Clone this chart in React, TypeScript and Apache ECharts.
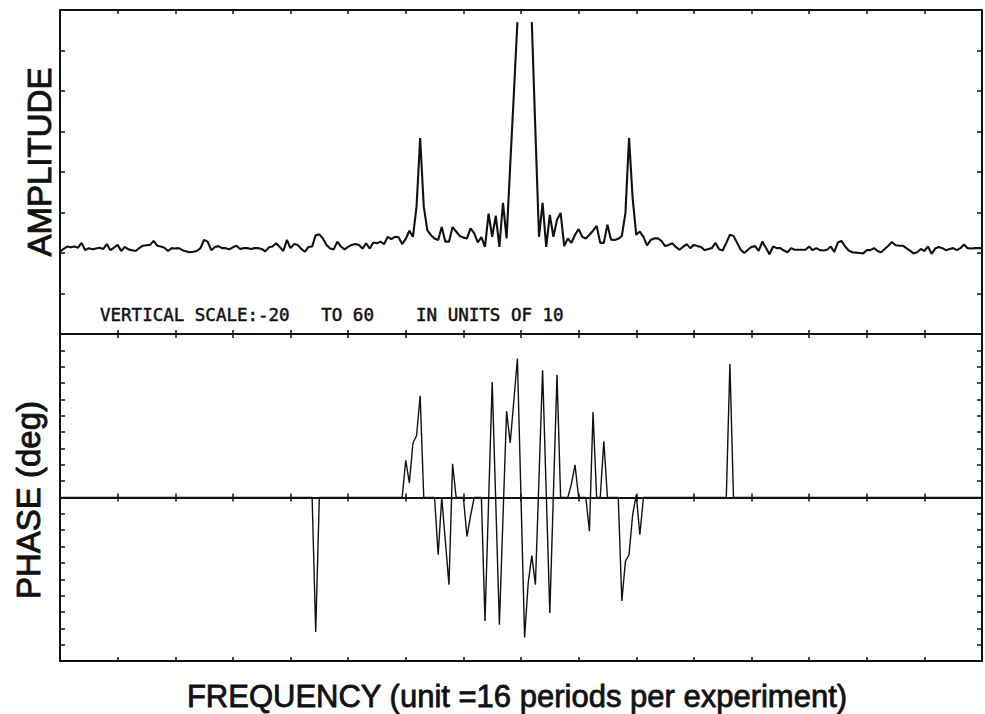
import React, { useEffect, useRef } from "react";
import * as echarts from "echarts";

// Frequency bins: one tick unit = 16 bins ("unit = 16 periods per experiment")
const FIRST_BIN = -128;
const LAST_BIN = 128;
const BINS_PER_UNIT = 16;

// Amplitude (vertical scale -20 to 60, units of 10), one value per bin from -128 to 128.
// null = off scale (central peak not drawn)
const amplitudeLeftTail: (number | null)[] = [
  0.3, 1.0, 1.6, 1.4, 1.6, 1.3, 2.5, 0.7, 1.2, 0.9, 1.1, 1.3, 1.0, 2.2, 0.7, 1.3, 2.0, 0.5, 1.5, 0.9,
  0.7, 0.5, 1.2, 1.8, 1.9, 2.0, 3.0, 1.8, 1.6, 1.3, 0.5, 1.2, 1.1, 1.2, 0.7, 0.4, 0.2, 0.3, 0.5, 1.2,
  3.2, 2.8, 0.7, 1.5, 1.7, 1.2, 1.2, 0.9, 1.4, 1.8, 1.0, 1.2, 1.2, 1.0, 1.2, 1.2, 1.0, 0.4, 1.4, 1.6,
  2.4, 1.5, 0.5, 3.2, 1.2, 2.2,
]; // bins -128 .. -63
const amplitudeLeftLobes: (number | null)[] = [
  2.0, 1.0, 0.3, 1.5, 1.6, 4.4, 4.6, 3.6, 2.0, 1.1, 0.9, 2.8, 1.6, 0.9, 1.5, 2.0, 2.2, 2.0, 1.1, 2.4,
  1.1, 2.6, 2.4, 2.8, 2.2, 4.0, 3.4, 4.0, 3.9, 2.2, 3.5, 5.5, 4.0, 11.5, 28.4, 11.5, 5.6, 4.4, 3.6, 3.2,
  6.4, 2.8, 2.8, 6.4, 5.3, 4.2, 3.8, 3.6, 6.1, 4.9, 2.6, 3.9, 1.5, 9.7, 4.0, 9.2, 1.5, 12.4, 3.6,
]; // bins -62 .. -4
const amplitudeCentre: (number | null)[] = [21.6, 39, 57, null, null, null, 57, 30, 4.0]; // bins -3 .. 5
const amplitudeRightLobes: (number | null)[] = [
  12.4, 1.5, 9.4, 4.0, 8.2, 9.9, 1.7, 3.6, 2.5, 4.5, 5.9, 4.0, 3.6, 4.5, 5.5, 6.7, 2.5, 2.5, 7.0, 3.3,
  3.2, 3.5, 4.2, 9.9, 28.4, 13.5, 4.5, 5.3, 4.0, 1.9, 3.2, 3.6, 3.6, 3.0, 1.7, 2.0, 2.4, 1.5, 0.8, 1.5,
  2.2, 1.2, 2.0, 1.7, 1.5, 0.7, 1.0, 1.2, 2.5, 0.9, 0.6, 2.5, 4.5, 4.2, 2.5, 0.8, 0.0, 0.8, 1.5, 1.7,
]; // bins 6 .. 65
const amplitudeRightTail: (number | null)[] = [
  0.5, 2.8, 1.3, -0.3, 1.6, 1.2, 1.2, 0.6, 0.2, 1.2, 0.8, 0.8, 0.8, 0.8, 1.6, 0.7, 1.2, 0.7, 0.6, 0.8,
  1.6, 0.3, 2.6, 3.0, 1.6, 0.6, 0.2, 0.1, 0.0, -0.1, 0.7, 0.7, 1.2, 0.5, 0.2, 1.0, 1.8, 2.7, 1.9, 1.8,
  1.8, 1.2, 0.6, -0.1, 0.2, 1.0, 0.5, 1.6, -0.2, 1.1, 1.5, 1.2, 0.7, 1.0, 1.2, 0.7, 1.2, 2.1, 1.2, 1.1,
  1.2, 1.2, 1.2,
]; // bins 66 .. 128

// Phase in degrees: [bin, deg]; zero elsewhere
const phasePoints: [number, number][] = [
  [-128, 0], [-58, 0], [-57, -148], [-56, 0],
  [-33, 0], [-32, 41], [-31, 16], [-30, 60], [-29, 68], [-28, 112], [-27, 0],
  [-24, 0], [-23, -63], [-22, 0], [-21, -48], [-20, -96], [-19, 37], [-18, 0],
  [-16, 0], [-15, -43], [-14, -20], [-13, 0],
  [-11, 0], [-10, -136], [-9, -5], [-8, 127], [-7, -6], [-6, -140], [-5, -22], [-4, 95], [-3, 60],
  [-2, 106], [-1, 153], [0, 0], [1, -154], [2, -94], [3, -64], [4, -96], [5, 22], [6, 140], [7, 6],
  [8, -127], [9, 4], [10, 135], [11, 0],
  [13, 0], [14, 15], [15, 36], [16, 0], [18, 0], [19, -37], [20, 94], [21, 0], [22, 0], [23, 62], [24, 0],
  [27, 0], [28, -114], [29, -70], [30, -63], [31, -19], [32, 3], [33, -41], [34, 0],
  [57, 0], [58, 147], [59, 0], [128, 0],
];

const AMP_MIN = -20;
const AMP_MAX = 60;
const AMP_STEP = 10;
const PHASE_MIN = -180;
const PHASE_MAX = 180;
const PHASE_STEP = 18;

const AMP_LABEL = "AMPLITUDE";
const PHASE_LABEL = "PHASE (deg)";
const FREQ_LABEL = "FREQUENCY (unit =16 periods per experiment)";
const SCALE_NOTE = "VERTICAL SCALE:-20   TO 60    IN UNITS OF 10";

const INK = "#111";
const SANS = '"Liberation Sans", Arial, sans-serif';

export default function App() {
  const ref = useRef<HTMLDivElement>(null);

  useEffect(() => {
    if (!ref.current) return;
    const chart = echarts.init(ref.current, undefined, { renderer: "svg" });

    const amplitude = [
      ...amplitudeLeftTail,
      ...amplitudeLeftLobes,
      ...amplitudeCentre,
      ...amplitudeRightLobes,
      ...amplitudeRightTail,
    ];
    const ampData = amplitude.map((v, k) => [FIRST_BIN + k, v === null ? "-" : v]);

    const gridLeft = 60;
    const gridWidth = 922;
    const topGrid = { top: 10, height: 324 };
    const botGrid = { top: 334, height: 327 };

    const xAx = (gridIndex: number, position: string, offset = 0) => ({
      type: "value",
      gridIndex,
      position,
      offset,
      min: FIRST_BIN,
      max: LAST_BIN,
      interval: BINS_PER_UNIT,
      axisLine: { show: true, onZero: false, lineStyle: { color: INK, width: 2 } },
      axisTick: { show: true, inside: true, length: 4, lineStyle: { color: INK, width: 1.5 } },
      axisLabel: { show: false },
      splitLine: { show: false },
    });
    const yAx = (gridIndex: number, position: string, min: number, max: number, step: number) => ({
      type: "value",
      gridIndex,
      position,
      min,
      max,
      interval: step,
      axisLine: { show: true, onZero: false, lineStyle: { color: INK, width: 2 } },
      axisTick: { show: true, inside: true, length: 5, lineStyle: { color: INK, width: 1.5 } },
      axisLabel: { show: false },
      splitLine: { show: false },
    });

    const label = (text: string, x: number, y: number, font: string, rotated: boolean, align: string, weight: number) => ({
      type: "text",
      x,
      y,
      rotation: rotated ? Math.PI / 2 : 0,
      style: {
        text,
        font,
        fill: INK,
        stroke: INK,
        lineWidth: weight,
        align,
        verticalAlign: "middle",
        textAlign: align,
        textVerticalAlign: "middle",
      },
    });

    chart.setOption({
      animation: false,
      backgroundColor: "#fff",
      grid: [
        { left: gridLeft, width: gridWidth, top: topGrid.top, height: topGrid.height, outerBoundsMode: "none" },
        { left: gridLeft, width: gridWidth, top: botGrid.top, height: botGrid.height, outerBoundsMode: "none" },
      ],
      xAxis: [
        xAx(0, "top"),
        xAx(0, "bottom"),
        xAx(1, "top"),
        xAx(1, "bottom"),
        xAx(1, "bottom", -botGrid.height / 2),
        xAx(1, "top", -botGrid.height / 2),
      ],
      yAxis: [
        yAx(0, "left", AMP_MIN, AMP_MAX, AMP_STEP),
        yAx(0, "right", AMP_MIN, AMP_MAX, AMP_STEP),
        yAx(1, "left", PHASE_MIN, PHASE_MAX, PHASE_STEP),
        yAx(1, "right", PHASE_MIN, PHASE_MAX, PHASE_STEP),
      ],
      series: [
        {
          type: "line",
          name: "Amplitude",
          xAxisIndex: 0,
          yAxisIndex: 0,
          data: ampData,
          showSymbol: false,
          connectNulls: false,
          clip: true,
          lineStyle: { color: INK, width: 2.1 },
          z: 5,
        },
        {
          type: "line",
          name: "Phase",
          xAxisIndex: 2,
          yAxisIndex: 2,
          data: phasePoints,
          showSymbol: false,
          clip: true,
          lineStyle: { color: INK, width: 1.4 },
          z: 5,
        },
      ],
      graphic: [
        label(AMP_LABEL, 39, 162, `33px ${SANS}`, true, "center", 0.9),
        label(PHASE_LABEL, 28, 500, `33px ${SANS}`, true, "center", 0.9),
        label(FREQ_LABEL, 517, 696, `31px ${SANS}`, false, "center", 0.8),
        label(SCALE_NOTE, 100, 315, '17.5px "DejaVu Sans Mono", "Liberation Mono", monospace', false, "left", 0.5),
      ],
    });

    return () => chart.dispose();
  }, []);

  return (
    <div
      ref={ref}
      style={{ position: "fixed", left: 0, top: 0, width: 985, height: 714, background: "#fff" }}
    />
  );
}
